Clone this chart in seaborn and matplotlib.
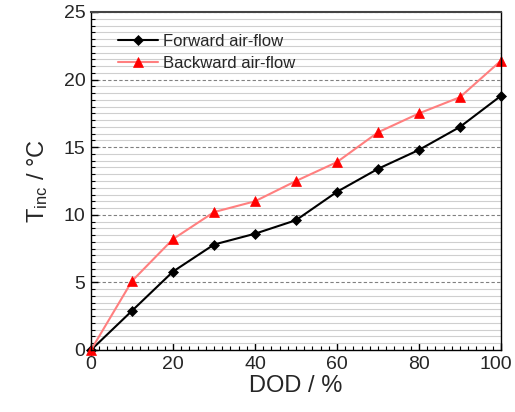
import matplotlib
matplotlib.use("Agg")
import matplotlib.pyplot as plt
import matplotlib.transforms as mtransforms
import seaborn as sns
import pandas as pd
from matplotlib.ticker import MultipleLocator

dod = [0, 10, 20, 30, 40, 50, 60, 70, 80, 90, 100]
forward = [0, 2.9, 5.8, 7.8, 8.6, 9.6, 11.7, 13.4, 14.8, 16.5, 18.8]
backward = [0, 5.1, 8.2, 10.2, 11.0, 12.5, 13.9, 16.1, 17.5, 18.7, 21.4]
series_names = ["Forward air-flow", "Backward air-flow"]

sns.set_theme(style="white")
plt.rcParams['font.family'] = ['Liberation Sans', 'DejaVu Sans']
plt.rcParams['mathtext.fontset'] = 'custom'
plt.rcParams['mathtext.rm'] = 'Liberation Sans'
plt.rcParams['mathtext.it'] = 'Liberation Sans'

df = pd.DataFrame({
    "DOD": dod * 2,
    "T": forward + backward,
    "series": [series_names[0]] * len(dod) + [series_names[1]] * len(dod),
})

fig = plt.figure(figsize=(5.15, 4.12), dpi=100)
ax = fig.add_axes([0.1767, 0.1505, 0.7961, 0.8204])

ax.yaxis.set_minor_locator(MultipleLocator(0.5))
ax.xaxis.set_minor_locator(MultipleLocator(2))
ax.grid(which='minor', axis='y', color='#cfcfcf', linewidth=0.8, linestyle='-')
ax.grid(which='major', axis='y', color='#808080', linewidth=0.8, linestyle=(0, (3, 2)))
ax.set_axisbelow(True)

sns.lineplot(data=df, x="DOD", y="T", hue="series", style="series",
             palette={series_names[0]: "black", series_names[1]: "#ff7f7f"},
             markers={series_names[0]: "D", series_names[1]: "^"},
             dashes=False, ax=ax, linewidth=1.5, markersize=6,
             markeredgewidth=0.5)

for line, c, ms in zip(ax.get_lines()[:2], ["black", "red"], [5.5, 7]):
    line.set_markerfacecolor(c)
    line.set_markeredgecolor(c)
    line.set_markersize(ms)
    line.set_clip_on(False)

ax.set_xlim(0, 100)
ax.set_ylim(0, 25)
ax.xaxis.set_major_locator(MultipleLocator(20))
ax.yaxis.set_major_locator(MultipleLocator(5))
ax.tick_params(axis='both', which='major', direction='in', length=5, width=1,
               labelsize=14, color='black', bottom=True, left=True, pad=4)
ax.tick_params(axis='both', which='minor', direction='in', length=3, width=0.8,
               color='black', bottom=True, left=True)
ax.tick_params(axis='x', which='both', top=False)
ax.tick_params(axis='y', which='both', right=False)

for s in ["left", "bottom", "right"]:
    ax.spines[s].set_color("black")
    ax.spines[s].set_linewidth(1.0)
ax.spines["top"].set_color("#444444")
ax.spines["top"].set_linewidth(1.5)

ax.set_xlabel("DOD / %", fontsize=17, labelpad=2)
ax.set_ylabel(r"T$_{\mathrm{inc}}$ / °C", fontsize=17, labelpad=10)

# nudge last x tick label left so it stays inside the figure
fig.canvas.draw()
last = ax.get_xticklabels()[-1]
for lbl in ax.get_xticklabels():
    if lbl.get_text() == "100":
        lbl.set_transform(lbl.get_transform() +
                          mtransforms.ScaledTranslation(-4 / 72, 0, fig.dpi_scale_trans))

handles, labels = ax.get_legend_handles_labels()
leg = ax.legend(handles, labels, loc='upper left', bbox_to_anchor=(0.03, 0.98),
                frameon=False, fontsize=12, handlelength=2.4, handletextpad=0.3,
                labelspacing=0.45)
for h, c, ms in zip(leg.legend_handles, ["black", "red"], [5, 6.5]):
    h.set_markerfacecolor(c)
    h.set_markeredgecolor(c)
    h.set_markersize(ms)

fig.savefig("out.png", dpi=100)
